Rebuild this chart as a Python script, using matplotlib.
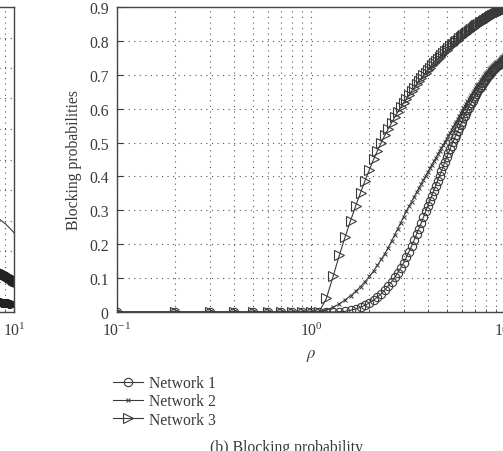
'''
Blocking probability vs offered load (panel b)
'''
import matplotlib
matplotlib.use("Agg")
import matplotlib.pyplot as plt
from matplotlib.ticker import LogLocator, NullFormatter

# offered load, 0.1 .. 10.0 in steps of 0.1
rho = [round(0.1 * k, 1) for k in range(1, 101)]

# Network 1 (circles) - zero up to rho = 1.3
net1 = [0.0] * 13 + [
    .001, .002, .005, .009, .014, .020, .027, .035, .044, .054,
    .065, .077, .089, .102, .116, .130, .145, .161, .178, .195,
    .212, .229, .246, .263, .280, .297, .313, .328, .343, .358,
    .373, .388, .402, .416, .430, .443, .456, .468, .480, .491,
    .502, .513, .523, .533, .543, .553, .562, .571, .579, .587,
    .595, .603, .610, .617, .624, .631, .637, .643, .649, .655,
    .660, .665, .670, .675, .680, .684, .688, .692, .696, .700,
    .703, .707, .710, .713, .716, .719, .722, .725, .728, .730,
    .733, .736, .738, .741, .743, .745, .748]

# Network 2 (crosses) - zero up to rho = 1.1
net2 = [0.0] * 11 + [
    .006, .014, .024, .036, .048, .061, .075, .090, .105, .121,
    .138, .155, .172, .190, .209, .228, .246, .264, .281, .297,
    .312, .326, .340, .353, .366, .378, .390, .402, .413, .424,
    .435, .445, .455, .465, .475, .484, .493, .502, .511, .520,
    .529, .537, .546, .554, .562, .570, .578, .586, .594, .601,
    .608, .615, .622, .628, .635, .641, .647, .653, .659, .664,
    .669, .674, .679, .684, .689, .693, .697, .701, .705, .709,
    .712, .716, .719, .722, .725, .728, .731, .734, .737, .739,
    .742, .744, .747, .749, .751, .753, .755, .757, .759]

# Network 3 (triangles) - zero up to rho = 1.1
net3 = [0.0] * 11 + [
    .040, .105, .168, .222, .270, .313, .352, .388, .420, .450,
    .476, .500, .521, .540, .558, .575, .590, .604, .617, .629,
    .641, .652, .662, .672, .681, .690, .698, .706, .714, .721,
    .728, .735, .741, .747, .753, .759, .764, .769, .774, .779,
    .784, .788, .792, .796, .800, .804, .808, .811, .815, .818,
    .821, .824, .827, .830, .833, .836, .838, .841, .843, .846,
    .848, .850, .853, .855, .857, .859, .861, .863, .865, .867,
    .868, .870, .872, .873, .875, .877, .878, .880, .881, .883,
    .884, .885, .887, .888, .889, .891, .892, .893, .894]

labels = ['Network 1', 'Network 2', 'Network 3']

# right edge of panel (a), only its last few points are visible
rho_a = [8.4, 8.5, 8.6, 8.7, 8.8, 8.9, 9.0, 9.1, 9.2, 9.3, 9.4, 9.5, 9.6, 9.7, 9.8, 9.9, 10.0]
a_line = [.305, .302, .300, .297, .295, .292, .290, .287, .284, .281, .278, .275, .272, .269, .266, .263, .260]
a_mid = [.128, .126, .124, .122, .120, .119, .117, .115, .113, .111, .109, .107, .105, .103, .101, .099, .097]
a_low = [.034, .034, .033, .033, .032, .032, .031, .031, .030, .030, .029, .029, .028, .028, .027, .027, .026]

INK = '#3a3a3a'
GRID = '#555555'
FS = 11.3


def style_axes(ax):
    ax.set_xscale('log')
    ax.set_xlim(0.1, 10)
    ax.xaxis.set_minor_locator(LogLocator(base=10, subs=range(2, 10)))
    ax.xaxis.set_minor_formatter(NullFormatter())
    ax.grid(True, which='both', axis='x', color=GRID, linestyle=(0, (1, 4)), linewidth=0.8)
    ax.grid(True, which='major', axis='y', color=GRID, linestyle=(0, (1, 4)), linewidth=0.8)
    ax.tick_params(which='both', direction='in', colors=INK, labelsize=FS)
    ax.tick_params(which='major', length=4)
    ax.tick_params(which='minor', length=2)
    for s in ax.spines.values():
        s.set_color('#444444')
        s.set_linewidth(1.0)


def run():
    plt.rcParams['font.family'] = ['Liberation Serif', 'DejaVu Serif']
    plt.rcParams['mathtext.fontset'] = 'stix'

    fig = plt.figure(figsize=(5.03, 4.52), dpi=100)
    W, H = 503.0, 452.0

    # panel (a) - mostly off canvas
    ax0 = fig.add_axes([(14 - 386) / W, 1 - 313 / H, 386 / W, 305 / H])
    style_axes(ax0)
    ax0.set_ylim(0, 1)
    ax0.set_yticks([0.1 * k for k in range(11)])
    ax0.set_yticklabels([])
    ax0.tick_params(axis='x', pad=7)
    ax0.plot(rho_a, a_line, color=INK, linewidth=0.8)
    ax0.plot(rho_a, a_mid, color='#222222', linewidth=1, marker='o', markersize=6)
    ax0.plot(rho_a, a_low, color='#222222', linewidth=1, marker='>', markersize=6)

    # panel (b)
    ax = fig.add_axes([117 / W, 1 - 313 / H, 388 / W, 305 / H])
    style_axes(ax)
    ax.set_ylim(0, 0.9)
    ax.set_yticks([0.1 * k for k in range(10)])
    ax.set_yticklabels(['0', '0.1', '0.2', '0.3', '0.4', '0.5', '0.6', '0.7', '0.8', '0.9'])
    ax.tick_params(axis='y', pad=6)
    ax.tick_params(axis='x', pad=7)

    ax.plot(rho, net1, color=INK, linewidth=0.8, marker='o', markersize=6,
            markerfacecolor='none', markeredgewidth=0.8, label=labels[0])
    ax.plot(rho, net2, color=INK, linewidth=0.8, marker='x', markersize=3.5,
            markeredgewidth=0.7, label=labels[1])
    ax.plot(rho, net3, color=INK, linewidth=0.8, marker='>', markersize=7,
            markerfacecolor='none', markeredgewidth=0.8, label=labels[2])

    ax.set_ylabel('Blocking probabilities', fontsize=FS, color=INK, labelpad=5)
    ax.set_xlabel(r'$\rho$', fontsize=12, color=INK, labelpad=6)

    leg = ax.legend(loc='upper left', bbox_to_anchor=(113 / W, 1 - 376 / H),
                    bbox_transform=fig.transFigure, frameon=False, fontsize=FS,
                    handlelength=1.9, handletextpad=0.4, labelspacing=0.15,
                    borderpad=0, borderaxespad=0)
    for t in leg.get_texts():
        t.set_color(INK)

    fig.text(286 / W, 1 - 448 / H, '(b) Blocking probability', ha='center', va='center',
             fontsize=FS, color=INK)

    fig.savefig('out.png', dpi=100)


if __name__ == "__main__":
    run()
